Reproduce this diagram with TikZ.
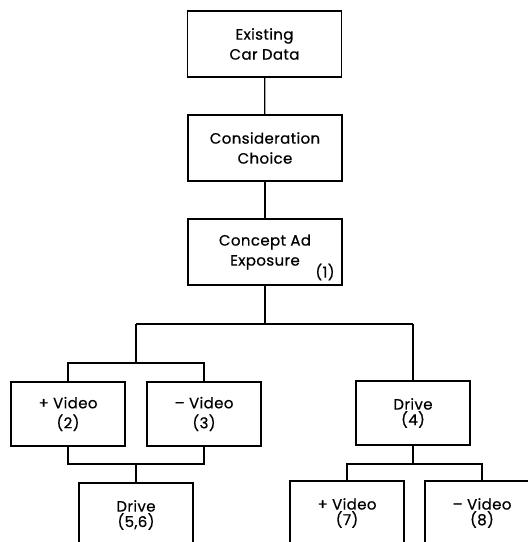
\documentclass[tikz,border=0pt]{standalone}
\usepackage{fontspec}
\setmainfont{Poppins}[LetterSpace=2.5, FakeBold=0.6]
\begin{document}
\begin{tikzpicture}[x=1pt,y=-1pt,
  bigbox/.style={draw, line width=1.8pt, minimum width=154pt, minimum height=66pt, inner sep=0pt, align=center, font=\fontsize{15}{20}\selectfont},
  smallbox/.style={draw, line width=1.8pt, minimum width=114pt, minimum height=64pt, inner sep=0pt, align=center, font=\fontsize{15}{15.5}\selectfont},
  widebox/.style={smallbox, font=\fontsize{15}{20}\selectfont},
  conn/.style={line width=1.3pt}]
\useasboundingbox (0,0) rectangle (528,542);
\clip (0,0) rectangle (528,542);
\node[bigbox] (b1) at (264.5,44) {Existing\\Car Data};
\node[bigbox] (b2) at (265,148) {Consideration\\Choice};
\node[bigbox] (b3) at (265,252) {Concept Ad\\Exposure\hspace{16pt}};
\node[font=\fontsize{15}{16}\selectfont, anchor=center] (n1) at (325,272) {(1)};
\node[widebox] (v2) at (68,414) {+ Video\\(2)};
\node[widebox] (v3) at (204,414) {– Video\\(3)};
\node[smallbox] (d4) at (413,413) {Drive\\(4)};
\node[smallbox] (d56) at (136,515) {Drive\\(5,6)};
\node[smallbox] (v7) at (347,513) {+ Video\\(7)};
\node[smallbox] (v8) at (482,513) {– Video\\(8)};
\coordinate (jl) at (136,324);
\coordinate (jr) at (413,324);
\coordinate (jl2) at (136,363);
\coordinate (jb) at (136,464);
\coordinate (jr2) at (413,464);
\draw[conn] (b1) -- (b2);
\draw[conn] (b2) -- (b3);
\draw[conn] (b3.south) |- (jl);
\draw[conn] (jl) -- (jr);
\draw[conn] (jl) -- (jl2);
\draw[conn] (v2.north) |- (jl2) -| (v3.north);
\draw[conn] (v2.south) |- (jb) -| (v3.south);
\draw[conn] (jb) -- (d56.north);
\draw[conn] (jr) -- (d4.north);
\draw[conn] (d4.south) -- (jr2);
\draw[conn] (v7.north) |- (jr2) -| (v8.north);
\end{tikzpicture}
\end{document}
